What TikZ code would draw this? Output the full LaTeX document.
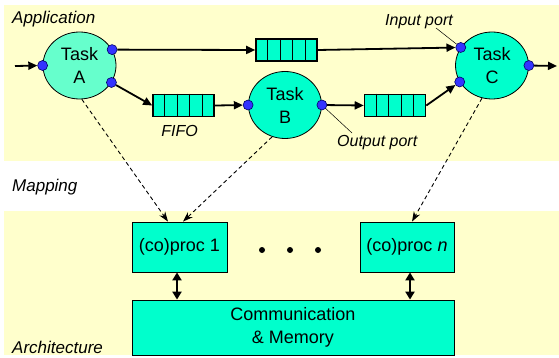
\documentclass[tikz,border=0pt]{standalone}
\usepackage{fontspec}
\setmainfont{Liberation Sans}
\usetikzlibrary{arrows.meta,shapes.geometric,calc}
\definecolor{band}{HTML}{FFFFCC}
\definecolor{taskA}{HTML}{66FFCC}
\definecolor{aqua}{HTML}{00FFCC}
\definecolor{portblue}{HTML}{3333FF}
\definecolor{portedge}{HTML}{000066}
\begin{document}
\begin{tikzpicture}[x=1pt,y=-1pt,
  task/.style={ellipse,draw=black,line width=0.8pt,fill=aqua,minimum width=73pt,minimum height=67pt,
    inner sep=0pt,align=center,font=\fontsize{18}{23}\selectfont},
  port/.style={circle,draw=portedge,fill=portblue,line width=0.6pt,minimum size=10pt,inner sep=0pt},
  fifo/.style={rectangle,draw=black,fill=aqua,line width=1.6pt,minimum width=61pt,minimum height=22pt,inner sep=0pt},
  box/.style={rectangle,draw=black,fill=aqua,line width=0.8pt,inner sep=0pt,align=center,
    font=\fontsize{18}{23}\selectfont},
  flow/.style={line width=1.8pt,-{Triangle[length=9pt,width=8pt]}},
  map/.style={line width=0.9pt,dash pattern=on 4pt off 3pt,-{Stealth[length=10pt,width=7pt]}},
  link/.style={line width=2.5pt,{Triangle[length=8pt,width=9pt]}-{Triangle[length=8pt,width=9pt]}},
  lbl/.style={font=\fontsize{16}{19}\selectfont\itshape,inner sep=0pt,anchor=base},
  layer/.style={font=\fontsize{17}{20}\selectfont\itshape,inner sep=0pt,anchor=base west},
  leader/.style={line width=0.5pt},
  dot/.style={circle,fill=black,minimum size=6pt,inner sep=0pt},
]
% page and the two layer bands
\fill[white] (0,0) rectangle (559,358);
\fill[band] (4,5) rectangle (559,161);
\fill[band] (4,211) rectangle (559,355);
\useasboundingbox (0,0) rectangle (559,358);

% layer titles
\node[layer] (lapp) at (12,24) {Application};
\node[layer] (lmap) at (12,192) {Mapping};
\node[layer] (larch) at (12,353) {Architecture};

% tasks
\node[task,fill=taskA] (tA) at (79.5,65.5) {Task\\A};
\node[task] (tB) at (285,105) {Task\\B};
\node[task] (tC) at (492,65.5) {Task\\C};

% FIFO buffers
\node[fifo] (f1) at (286.5,50) {};
\node[fifo] (f2) at (183.5,105.5) {};
\node[fifo] (f3) at (395,105.5) {};
\foreach \f in {f1,f2,f3}
  \foreach \i in {1,...,4}
    \draw[line width=0.8pt] ($(\f.north west)!\i/5!(\f.north east)$) -- ($(\f.south west)!\i/5!(\f.south east)$);

% ports
\node[port] (pAin) at (tA.180) {};
\node[port] (pA1) at (tA.26) {};
\node[port] (pA2) at (tA.-28) {};
\node[port] (pBin) at (tB.180) {};
\node[port] (pBout) at (tB.0) {};
\node[port] (pC1) at (tC.150) {};
\node[port] (pC2) at (tC.-153) {};
\node[port] (pCout) at (tC.0) {};

% data flow
\coordinate (src) at (15,66);
\coordinate (sink) at (557,66);
\draw[flow] (src) -- (pAin);
\draw[flow] (pA1) -- (f1.west);
\draw[flow] (pA2) -- (f2.west);
\draw[flow] (f2.east) -- (pBin);
\draw[flow] (pBout) -- (f3.west);
\draw[flow] (f3.east) -- (pC2);
\draw[flow] (f1.east) -- (pC1);
\draw[flow] (pCout) -- (sink);

% annotations
\node[lbl] (fifolbl) at (179.5,137) {FIFO};
\node[lbl,anchor=base west] (inlbl) at (385,26) {Input port};
\node[lbl,anchor=base west] (outlbl) at (337,147) {Output port};
\coordinate (inlead) at (436,28);
\coordinate (outlead) at (352,133);
\draw[leader] (inlead) -- (pC1);
\draw[leader] (pBout) -- (outlead);

% architecture
\node[box,minimum width=95pt,minimum height=50pt] (p1) at (179.5,247) {(co)proc 1};
\node[box,minimum width=94pt,minimum height=50pt] (pn) at (407,247) {(co)proc \textit{n}};
\node[box,minimum width=322pt,minimum height=55pt] (mem) at (293,327.5) {Communication\\\& Memory};
\node[dot] (d1) at (262,250) {};
\node[dot] (d2) at (290,250) {};
\node[dot] (d3) at (318,250) {};

% processor to memory links
\coordinate (l1a) at ($(p1.south)+(-2.5,0)$);
\coordinate (l1b) at (l1a |- mem.north);
\coordinate (lna) at ($(pn.south)+(3,0)$);
\coordinate (lnb) at (lna |- mem.north);
\draw[link] (l1a) -- (l1b);
\draw[link] (lna) -- (lnb);

% mapping of tasks onto processors
\draw[map] (tA.-86) -- ($(p1.north)+(-11.5,0)$);
\draw[map] (tB.-112) -- ($(p1.north)+(3.5,0)$);
\draw[map] (tC.-107) -- ($(pn.north)+(5,0)$);
\end{tikzpicture}
\end{document}
